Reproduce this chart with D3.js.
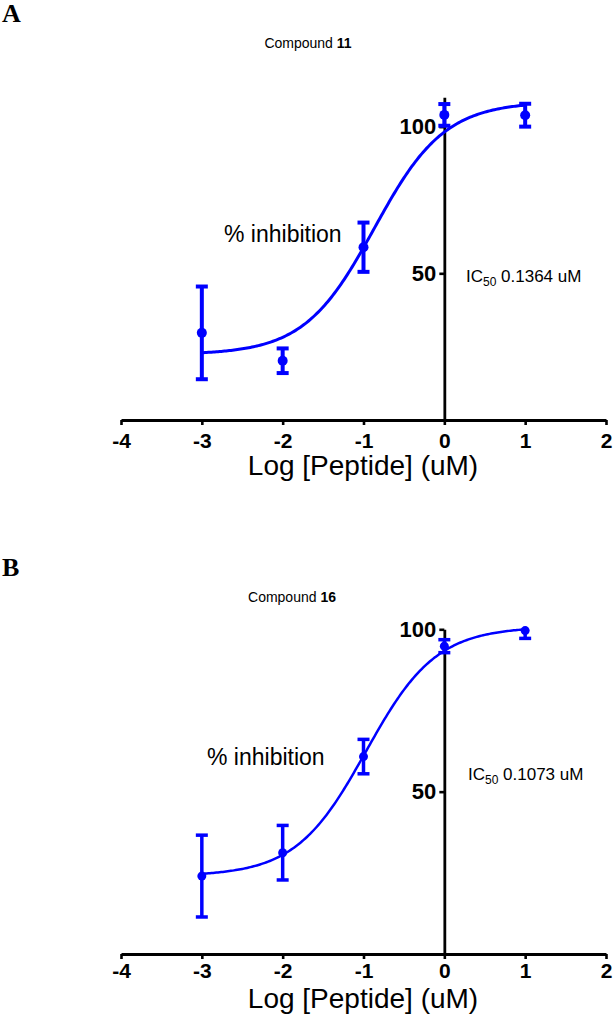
<!DOCTYPE html>
<html>
<head>
<meta charset="utf-8">
<script src="https://cdn.jsdelivr.net/npm/d3@7"></script>
<style>
  body { margin: 0; background: #fff; }
  svg text { font-family: "Liberation Sans", Arial, sans-serif; fill: #000; }
</style>
</head>
<body>
<svg id="chart" width="616" height="1020"></svg>
<script>
// ---------------------------------------------------------------------------
// Data
// ---------------------------------------------------------------------------

const xTicks = [-4, -3, -2, -1, 0, 1, 2];
const yTicks = [50, 100];
const logConc = [-3, -2, -1, 0, 1];

// Panel A — compound 11
const inhibA = [29.7, 20.2, 58.9, 104.0, 103.9];
const semA   = [15.8, 4.2, 8.4, 3.7, 3.9];
const fitA   = { bottom: 22.3, top: 108.5, ic50: 0.1364, hill: 1.0 };

// Panel B — compound 16
const inhibB = [24.0, 31.2, 60.8, 94.8, 99.6];
const semB   = [12.6, 8.4, 5.3, 2.0, 2.4];
const fitB   = { bottom: 24.0, top: 100.8, ic50: 0.1073, hill: 1.0 };

const BLUE = "#0000ff";
const svg = d3.select("#chart");

// ---------------------------------------------------------------------------
// One dose–response panel
// ---------------------------------------------------------------------------

function drawPanel(p) {
    const g = svg.append("g");
    const x = d3.scaleLinear().domain([-4, 2]).range([121, 606]);
    const y = d3.scaleLinear().domain([0, p.yMax]).range([p.y0, p.yTop]);

    // panel letter + title
    g.append("text").attr("x", 2).attr("y", p.letterY)
        .style("font-family", "'Liberation Serif', 'Times New Roman', serif")
        .attr("font-size", "26px").attr("font-weight", "bold").text(p.letter);

    const t = g.append("text").attr("x", p.titleX).attr("y", p.titleY)
        .attr("text-anchor", "middle").attr("font-size", "14px");
    t.append("tspan").text("Compound ");
    t.append("tspan").attr("font-weight", "bold").text(p.compound);

    // x axis
    const xa = g.append("g").attr("transform", `translate(0,${p.y0})`)
        .call(d3.axisBottom(x).tickValues(xTicks).tickSize(5).tickSizeOuter(0)
            .tickPadding(p.xPad).tickFormat(d3.format("d")));
    xa.select(".domain").attr("stroke-width", 2.8);
    xa.selectAll(".tick line").attr("stroke-width", 2.6);
    xa.selectAll("text").attr("font-size", "21px").attr("font-weight", "bold")
        .text(d => d < 0 ? "-" + (-d) : d);

    // y axis at x = 0
    const ya = g.append("g").attr("transform", `translate(${x(0)},0)`)
        .call(d3.axisLeft(y).tickValues(yTicks).tickSize(5).tickSizeOuter(0).tickPadding(3));
    ya.select(".domain").attr("stroke-width", 2.8);
    ya.selectAll(".tick line").attr("stroke-width", 2.6);
    ya.selectAll("text").attr("font-size", "22px").attr("font-weight", "bold");

    // axis labels
    g.append("text").attr("x", 363).attr("y", p.xTitleY).attr("text-anchor", "middle")
        .attr("font-size", "28px").text("Log [Peptide] (uM)");
    g.append("text").attr("x", p.inhX).attr("y", p.inhY)
        .attr("font-size", "23px").text("% inhibition");

    const ic = g.append("text").attr("x", p.icX).attr("y", p.icY).attr("font-size", "17px");
    ic.append("tspan").text("IC");
    ic.append("tspan").attr("font-size", "12px").attr("dy", 4).text("50");
    ic.append("tspan").attr("dy", -4).text(" " + p.fit.ic50 + " uM");

    // fitted 4-parameter logistic curve
    const f = p.fit;
    const logIC = Math.log10(f.ic50);
    const curve = d3.range(-3, 1.0001, 0.02)
        .map(v => [v, f.bottom + (f.top - f.bottom) / (1 + Math.pow(10, (logIC - v) * f.hill))]);
    g.append("path").datum(curve)
        .attr("d", d3.line().x(d => x(d[0])).y(d => y(d[1])))
        .attr("fill", "none").attr("stroke", BLUE).attr("stroke-width", p.curveW);

    // error bars (clipped to the axis range, as in the original)
    const clampY = v => y(Math.min(v, p.yMax));
    const pts = logConc.map((c, i) => ({ c, m: p.vals[i], e: p.sem[i] }));
    const eb = g.append("g").attr("stroke", BLUE).attr("stroke-width", p.barW);
    eb.selectAll("line.v").data(pts).join("line").attr("class", "v")
        .attr("x1", d => x(d.c)).attr("x2", d => x(d.c))
        .attr("y1", d => clampY(d.m + d.e)).attr("y2", d => y(d.m - d.e));
    eb.selectAll("line.lo").data(pts).join("line").attr("class", "lo")
        .attr("x1", d => x(d.c) - 6).attr("x2", d => x(d.c) + 6)
        .attr("y1", d => y(d.m - d.e)).attr("y2", d => y(d.m - d.e));
    eb.selectAll("line.hi").data(pts.filter(d => d.m + d.e <= p.yMax)).join("line").attr("class", "hi")
        .attr("x1", d => x(d.c) - 6).attr("x2", d => x(d.c) + 6)
        .attr("y1", d => y(d.m + d.e)).attr("y2", d => y(d.m + d.e));

    g.selectAll("circle").data(pts).join("circle")
        .attr("cx", d => x(d.c)).attr("cy", d => y(d.m))
        .attr("r", p.r).attr("fill", BLUE);
}

drawPanel({
    letter: "A", letterY: 22, compound: "11", titleX: 308, titleY: 48,
    yMax: 110, y0: 420, yTop: 97.3, xPad: 8, xTitleY: 475,
    inhX: 224, inhY: 242, icX: 466, icY: 282,
    vals: inhibA, sem: semA, fit: fitA, curveW: 3, barW: 4, r: 5
});

drawPanel({
    letter: "B", letterY: 576, compound: "16", titleX: 292, titleY: 602,
    yMax: 100, y0: 954, yTop: 629.3, xPad: 4, xTitleY: 1008,
    inhX: 207, inhY: 765, icX: 468, icY: 780,
    vals: inhibB, sem: semB, fit: fitB, curveW: 2.5, barW: 3.5, r: 4.5
});
</script>
</body>
</html>
